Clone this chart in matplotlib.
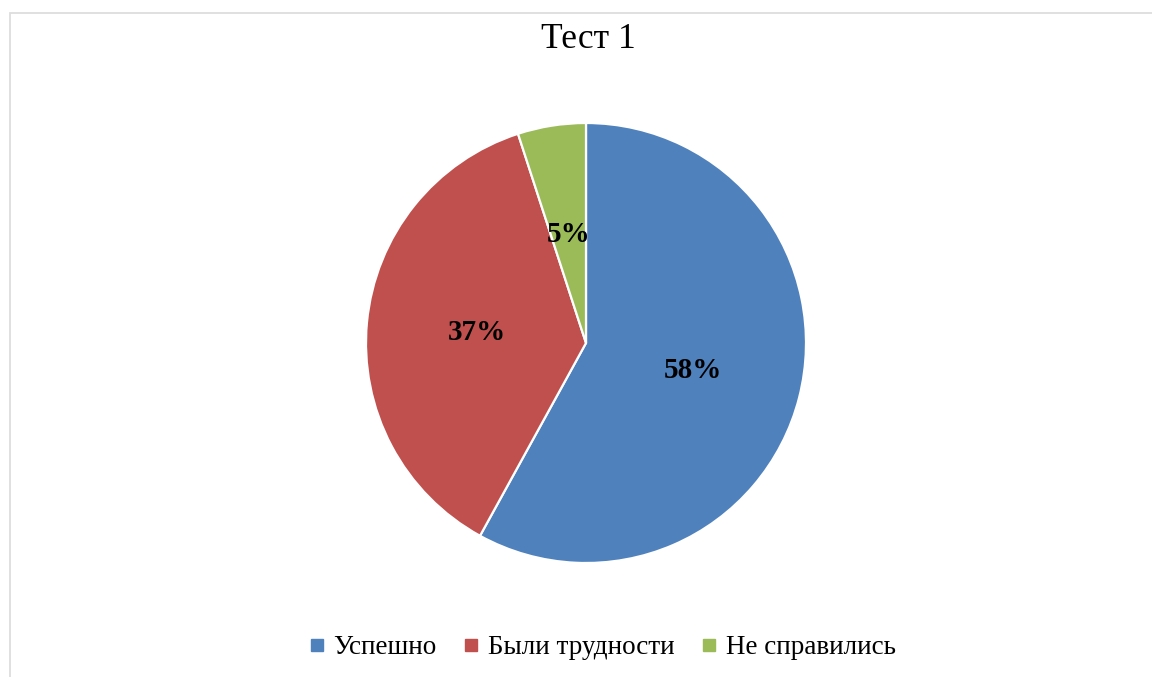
import matplotlib
matplotlib.use("Agg")
import matplotlib.pyplot as plt
from matplotlib.patches import Rectangle
from matplotlib.lines import Line2D

# data
categories = ["Успешно", "Были трудности", "Не справились"]
shares = [58, 37, 5]
colors = ["#4F81BD", "#C0504D", "#9BBB59"]
title = "Тест 1"

plt.rcParams["font.family"] = ["Liberation Serif", "DejaVu Serif"]

W, H = 1152, 677
fig = plt.figure(figsize=(W / 100, H / 100), dpi=100)

# pie axes: centre (586, 343) px from top, radius 220 px
cx, cy, r = 586, 343, 220
ax = fig.add_axes([(cx - r) / W, (H - cy - r) / H, 2 * r / W, 2 * r / H])
wedges, texts, autotexts = ax.pie(
    shares, colors=colors, startangle=90, counterclock=False,
    autopct=lambda p: f"{p:.0f}%", pctdistance=0.5,
    wedgeprops=dict(edgecolor="white", linewidth=1.6),
    textprops=dict(fontsize=21, fontweight="bold", color="black"),
)
ax.set_xlim(-1, 1)
ax.set_ylim(-1, 1)
ax.set_aspect("equal")
ax.axis("off")

fig.text(588 / W, 1 - 39 / H, title, ha="center", va="center", fontsize=25.5)

# chart area border (only left and top edges visible in the crop)
fig.add_artist(Rectangle((10 / W, -0.1), 1.2, 1.1 - 13 / H, transform=fig.transFigure,
                         fill=False, edgecolor="#DDDDDD", linewidth=1.3))

handles = [Line2D([], [], marker="s", linestyle="none", markersize=8,
                  markerfacecolor=c, markeredgecolor=c) for c in colors]
fig.legend(handles, categories, loc="center", bbox_to_anchor=(602 / W, 1 - 648 / H),
           ncol=3, frameon=False, fontsize=19.5, handlelength=0.6, handletextpad=0.3,
           columnspacing=1.0)

fig.savefig("out.png", dpi=100)
